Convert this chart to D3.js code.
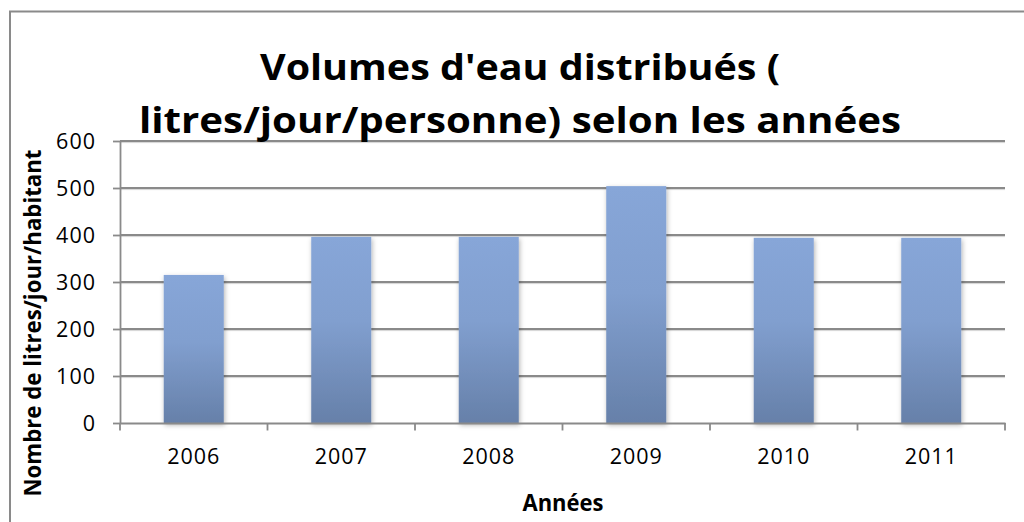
<!DOCTYPE html>
<html>
<head>
<meta charset="utf-8">
<script src="https://cdn.jsdelivr.net/npm/d3@7"></script>
<style>
  body { margin: 0; background: #fff; }
  svg { display: block; font-family: "Open Sans", sans-serif; }
</style>
</head>
<body>
<svg id="chart" width="1024" height="522"></svg>
<script>
const years = ['2006', '2007', '2008', '2009', '2010', '2011'];
const volumes = [315, 396, 396, 504, 394, 394];
const yTicks = [0, 100, 200, 300, 400, 500, 600];
const titleLines = ["Volumes d'eau distribués (", "litres/jour/personne) selon les années"];
const yLabel = 'Nombre de litres/jour/habitant';
const xLabel = 'Années';

const chartHelpers = {
  width: 1024,
  height: 522,
  margins: { top: 141, left: 120, right: 19, bottom: 99 },
  gridColor: '#8a8a8a',
  axisColor: '#8a8a8a'
}

const svg = d3.select('#chart');
const plotW = chartHelpers.width - chartHelpers.margins.left - chartHelpers.margins.right;
const plotH = chartHelpers.height - chartHelpers.margins.top - chartHelpers.margins.bottom;

const x = d3.scaleBand()
  .domain(years)
  .range([0, plotW])
  .paddingInner(0.593)
  .paddingOuter(0.2965);
const y = d3.scaleLinear()
  .domain([0, 600])
  .range([plotH, 0]);

// defs: bar gradient + soft shadow
const defs = svg.append('defs');
const grad = defs.append('linearGradient')
  .attr('id', 'barGrad')
  .attr('x1', 0).attr('y1', 0).attr('x2', 0).attr('y2', 1);
grad.append('stop').attr('offset', '0%').attr('stop-color', '#87a6d8');
grad.append('stop').attr('offset', '45%').attr('stop-color', '#819fcf');
grad.append('stop').attr('offset', '100%').attr('stop-color', '#6680a9');
const shadow = defs.append('filter')
  .attr('id', 'shadow')
  .attr('x', '-20%').attr('y', '-20%').attr('width', '140%').attr('height', '140%');
shadow.append('feDropShadow')
  .attr('dx', 1).attr('dy', 2)
  .attr('stdDeviation', 2.5)
  .attr('flood-color', '#000')
  .attr('flood-opacity', 0.3);

// outer chart border (runs off the right and bottom edge)
svg.append('rect')
  .attr('x', 10).attr('y', 11.5)
  .attr('width', 1030).attr('height', 530)
  .attr('fill', 'none')
  .attr('stroke', '#8a8a8a')
  .attr('stroke-width', 2);

const g = svg.append('g')
  .attr('transform', 'translate(' + chartHelpers.margins.left + ',' + chartHelpers.margins.top + ')');

// gridlines
const grid = g.append('g').attr('class', 'grid');
grid.selectAll('line.shade')
  .data(yTicks.filter(d => d > 0))
  .enter().append('line')
  .attr('class', 'shade')
  .attr('x1', 0).attr('x2', plotW)
  .attr('y1', d => y(d) + 1.6).attr('y2', d => y(d) + 1.6)
  .attr('stroke', '#d4d4d4')
  .attr('stroke-width', 1);
grid.selectAll('line.main')
  .data(yTicks.filter(d => d > 0))
  .enter().append('line')
  .attr('class', 'main')
  .attr('x1', 0).attr('x2', plotW)
  .attr('y1', d => y(d)).attr('y2', d => y(d))
  .attr('stroke', chartHelpers.gridColor)
  .attr('stroke-width', 1.8);

// bars
g.selectAll('rect.bar')
  .data(volumes)
  .enter().append('rect')
  .attr('class', 'bar')
  .attr('x', (d, i) => x(years[i]))
  .attr('y', d => y(d))
  .attr('width', x.bandwidth())
  .attr('height', d => plotH - y(d))
  .attr('fill', 'url(#barGrad)')
  .attr('filter', 'url(#shadow)');

// y axis
const yAxis = d3.axisLeft(y)
  .tickValues(yTicks)
  .tickSizeInner(7)
  .tickSizeOuter(0)
  .tickPadding(17);
const yg = g.append('g').attr('class', 'y axis').call(yAxis);

// x axis with ticks on category boundaries
const xAxis = d3.axisBottom(x).tickSize(0).tickPadding(26);
const xg = g.append('g')
  .attr('class', 'x axis')
  .attr('transform', 'translate(0,' + plotH + ')')
  .call(xAxis);
const bounds = d3.range(years.length + 1).map(i => i * x.step());
xg.selectAll('line.bound')
  .data(bounds)
  .enter().append('line')
  .attr('class', 'bound')
  .attr('x1', d => d).attr('x2', d => d)
  .attr('y1', 0).attr('y2', 7.5)
  .attr('stroke', chartHelpers.axisColor)
  .attr('stroke-width', 1.8);

[yg, xg].forEach(ax => {
  ax.select('.domain').attr('stroke', chartHelpers.axisColor).attr('stroke-width', 1.8);
  ax.selectAll('.tick line').attr('stroke', chartHelpers.axisColor).attr('stroke-width', 1.8);
  ax.selectAll('.tick text')
    .attr('font-family', '"Open Sans", sans-serif')
    .attr('font-size', 21.5)
    .attr('letter-spacing', 1)
    .attr('fill', '#000');
});
yg.selectAll('.tick text').attr('dy', '0.36em');
xg.selectAll('.tick text').attr('dy', '0.72em');

// title
svg.append('g').selectAll('text')
  .data(titleLines)
  .enter().append('text')
  .attr('x', 520)
  .attr('y', (d, i) => 80 + i * 53)
  .attr('text-anchor', 'middle')
  .attr('font-size', 35)
  .attr('font-weight', 'bold')
  .attr('textLength', (d, i) => i === 0 ? 520 : 762)
  .attr('lengthAdjust', 'spacingAndGlyphs')
  .attr('fill', '#000')
  .text(d => d);

// axis titles
svg.append('text')
  .attr('transform', 'translate(41,323) rotate(-90)')
  .attr('text-anchor', 'middle')
  .attr('font-size', 24)
  .attr('font-weight', 'bold')
  .attr('textLength', 347)
  .attr('lengthAdjust', 'spacingAndGlyphs')
  .text(yLabel);

svg.append('text')
  .attr('x', 563)
  .attr('y', 511)
  .attr('text-anchor', 'middle')
  .attr('font-size', 23.5)
  .attr('font-weight', 'bold')
  .attr('textLength', 81)
  .attr('lengthAdjust', 'spacingAndGlyphs')
  .text(xLabel);
</script>
</body>
</html>
